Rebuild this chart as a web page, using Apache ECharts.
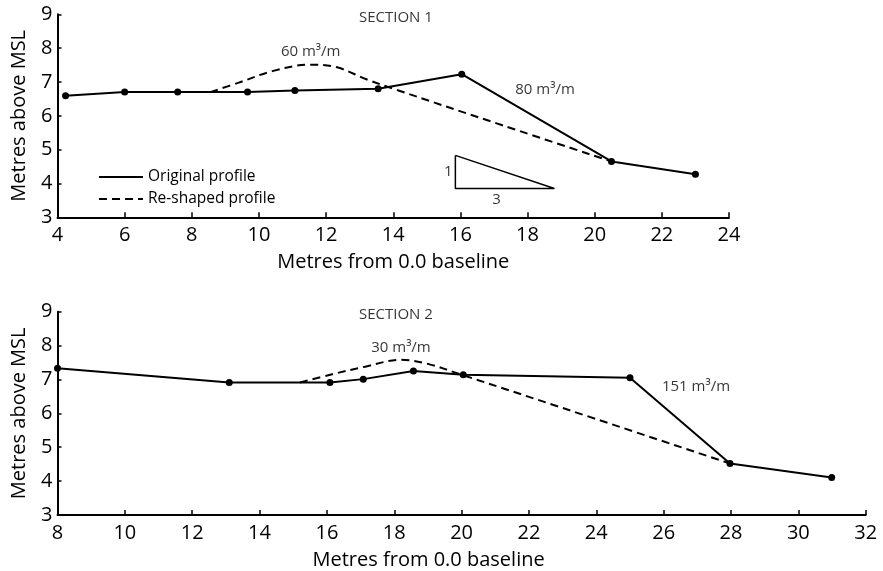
<!DOCTYPE html>
<html>
<head>
<meta charset="utf-8">
<style>
  html, body { margin: 0; padding: 0; background: #fff; }
  #chart { width: 883px; height: 571px; }
</style>
<script src="https://cdn.jsdelivr.net/npm/echarts@6/dist/echarts.min.js"></script>
</head>
<body>
<div id="chart"></div>
<script>
// Section 1 surveyed profile (distance from baseline, elevation above MSL)
const s1Original = [[4.24, 6.59], [6.0, 6.7], [7.58, 6.7], [9.66, 6.7], [11.07, 6.75], [13.55, 6.8], [16.04, 7.23], [20.5, 4.65], [23.0, 4.27]];
// Section 1 re-shaped profile
const s1Reshaped = [[8.55, 6.7], [9.4, 6.98], [10.4, 7.32], [11.5, 7.51], [12.3, 7.44], [13.2, 7.08], [14.0, 6.8], [17.25, 5.72], [20.5, 4.65]];
// Section 2 surveyed profile
const s2Original = [[8.0, 7.33], [13.1, 6.91], [16.09, 6.91], [17.08, 7.01], [18.57, 7.25], [20.05, 7.14], [25.0, 7.05], [27.97, 4.52], [30.99, 4.11]];
// Section 2 re-shaped profile
const s2Reshaped = [[15.2, 6.91], [16.1, 7.14], [17.1, 7.37], [18.2, 7.58], [19.0, 7.46], [20.0, 7.14], [24.0, 5.83], [27.97, 4.52]];
// 1:3 slope key
const slopeKey = [[15.85, 4.83], [15.85, 3.85], [18.8, 3.85], [15.85, 4.83]];

// Annotation texts anchored in data coordinates
const s1Notes = [
  { name: 'SECTION 1', value: [14.08, 8.89] },
  { name: '60 m³/m', value: [11.54, 7.89] },
  { name: '80 m³/m', value: [18.52, 6.76] },
  { name: '1', value: [15.64, 4.35] },
  { name: '3', value: [17.08, 3.53] }
];
const s2Notes = [
  { name: 'SECTION 2', value: [18.05, 8.9] },
  { name: '30 m³/m', value: [18.2, 7.93] },
  { name: '151 m³/m', value: [26.96, 6.79] }
];

const yTicks = { min: 3, max: 9, interval: 1 };
const s1XRange = { min: 4, max: 24, interval: 2 };
const s2XRange = { min: 8, max: 32, interval: 2 };

const FONT = 'Open Sans';
const INK = '#000';

function xAxisFor(gridIndex, range, namePad) {
  return {
    type: 'value', gridIndex, min: range.min, max: range.max, interval: range.interval,
    name: 'Metres from 0.0 baseline', nameLocation: 'middle', nameGap: 35,
    nameTextStyle: { fontFamily: FONT, fontSize: 20, color: INK, padding: namePad },
    axisLine: { show: true, onZero: false, lineStyle: { color: INK, width: 2 } },
    axisTick: { show: true, inside: true, length: 5, lineStyle: { color: INK, width: 1.5 } },
    axisLabel: { fontFamily: FONT, fontSize: 20, color: INK, margin: 8 },
    splitLine: { show: false }
  };
}
function yAxisFor(gridIndex) {
  return {
    type: 'value', gridIndex, min: yTicks.min, max: yTicks.max, interval: yTicks.interval,
    name: 'Metres above MSL', nameLocation: 'middle', nameGap: 28,
    nameTextStyle: { fontFamily: FONT, fontSize: 20, color: INK },
    axisLine: { show: true, onZero: false, lineStyle: { color: INK, width: 2 } },
    axisTick: { show: true, inside: true, length: 4, lineStyle: { color: INK, width: 1.5 } },
    axisLabel: { fontFamily: FONT, fontSize: 20, color: INK, margin: 5 },
    splitLine: { show: false }
  };
}
function profileLine(data, idx) {
  return {
    type: 'line', xAxisIndex: idx, yAxisIndex: idx, data, z: 3,
    symbol: 'circle', symbolSize: 7, showSymbol: true,
    itemStyle: { color: INK }, lineStyle: { color: INK, width: 2 }, silent: true
  };
}
function reshapedLine(data, idx) {
  return {
    type: 'line', xAxisIndex: idx, yAxisIndex: idx, data, z: 2,
    showSymbol: false, symbol: 'none', smooth: 0.35,
    lineStyle: { color: INK, width: 2, type: [8, 5] }, silent: true
  };
}
function notes(data, idx) {
  return {
    type: 'scatter', xAxisIndex: idx, yAxisIndex: idx, data, symbolSize: 0, silent: true,
    label: { show: true, position: 'inside', formatter: p => p.name, fontFamily: FONT, fontSize: 15, color: INK }
  };
}

const chart = echarts.init(document.getElementById('chart'), null, { renderer: 'canvas' });
chart.setOption({
  animation: false,
  backgroundColor: '#fff',
  grid: [
    { left: 57.5, right: 154, top: 14.3, height: 203 },
    { left: 57.5, right: 17.3, top: 311.7, height: 203.6 }
  ],
  xAxis: [xAxisFor(0, s1XRange, [0, 0, 0, 0]), xAxisFor(1, s2XRange, [0, 66, 0, 0])],
  yAxis: [yAxisFor(0), yAxisFor(1)],
  series: [
    reshapedLine(s1Reshaped, 0),
    profileLine(s1Original, 0),
    {
      type: 'line', xAxisIndex: 0, yAxisIndex: 0, data: slopeKey, symbol: 'none',
      lineStyle: { color: INK, width: 1.5 }, silent: true
    },
    notes(s1Notes, 0),
    reshapedLine(s2Reshaped, 1),
    profileLine(s2Original, 1),
    notes(s2Notes, 1)
  ],
  graphic: [
    { type: 'line', shape: { x1: 99, y1: 177, x2: 143, y2: 177 }, style: { stroke: INK, lineWidth: 2 } },
    { type: 'text', x: 148, y: 177, style: { text: 'Original profile', fontFamily: FONT, fontSize: 15.5, fill: INK, verticalAlign: 'middle' } },
    { type: 'line', shape: { x1: 99, y1: 199, x2: 143, y2: 199 }, style: { stroke: INK, lineWidth: 2, lineDash: [8, 5] } },
    { type: 'text', x: 148, y: 199, style: { text: 'Re-shaped profile', fontFamily: FONT, fontSize: 15.5, fill: INK, verticalAlign: 'middle' } }
  ]
});
</script>
</body>
</html>
